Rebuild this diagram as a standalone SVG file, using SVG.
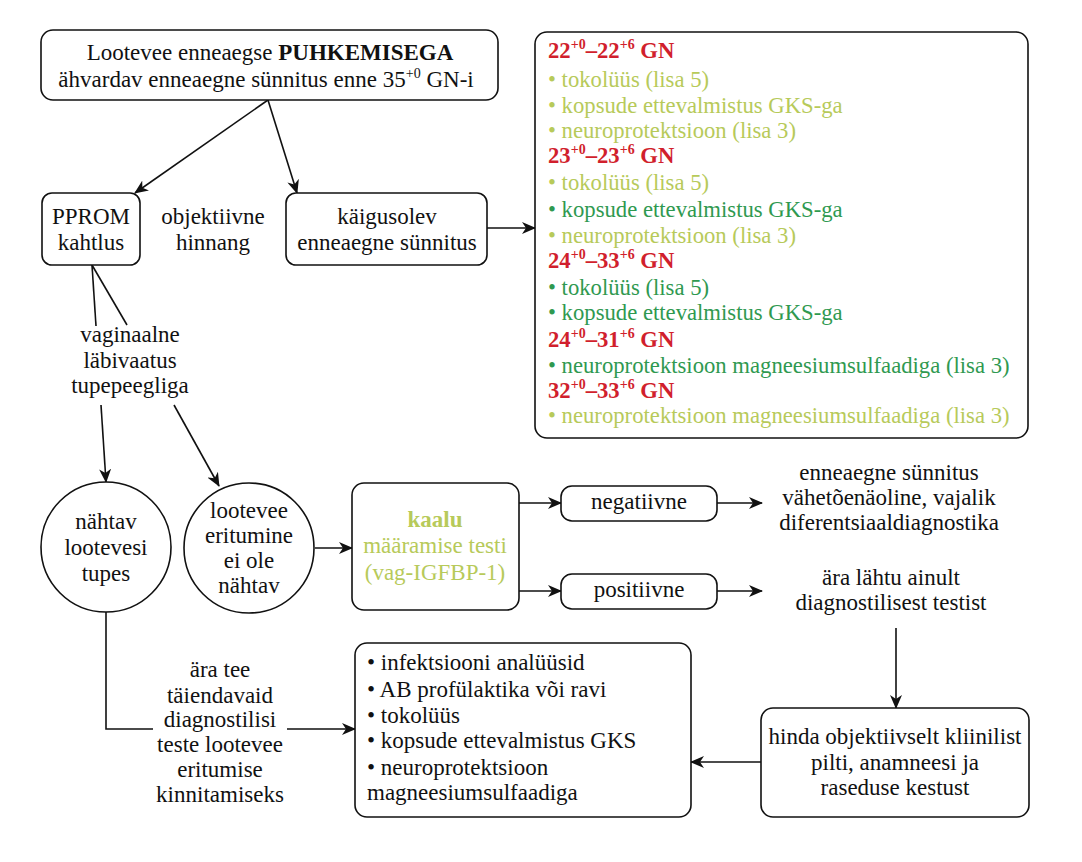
<svg xmlns="http://www.w3.org/2000/svg" width="1082" height="862" viewBox="0 0 1082 862" font-family="'Liberation Serif', 'Times New Roman', Times, serif" font-size="23">
<style>
text{font-family:'Liberation Serif','Times New Roman',Times,serif;font-size:23px;fill:#111;}
.c{text-anchor:middle;}
.box{fill:#fff;stroke:#111;stroke-width:1.6;}
.ln{fill:none;stroke:#111;stroke-width:1.6;}
.r text{font-size:22.7px;}
.red{fill:#d11f2d;font-weight:bold;}
.lg{fill:#b7ca5a;}
.dg{fill:#2f9950;}
.sup{font-size:14px;}
</style>
<defs>
<marker id="ah" markerUnits="userSpaceOnUse" markerWidth="14" markerHeight="12" refX="13" refY="6" orient="auto">
<path d="M0,0 L14,6 L0,12 L4,6 z" fill="#111"/>
</marker>
</defs>
<rect width="1082" height="862" fill="#fff"/>

<g id="connectors">
<line class="ln" x1="268" y1="100" x2="135" y2="193" marker-end="url(#ah)"/>
<line class="ln" x1="268" y1="100" x2="297" y2="193" marker-end="url(#ah)"/>
<line class="ln" x1="487" y1="228" x2="535" y2="228" marker-end="url(#ah)"/>
<line class="ln" x1="92" y1="265" x2="96" y2="326"/>
<line class="ln" x1="92" y1="265" x2="127" y2="325"/>
<line class="ln" x1="101" y1="405" x2="106" y2="482" marker-end="url(#ah)"/>
<line class="ln" x1="174" y1="405" x2="219" y2="486" marker-end="url(#ah)"/>
<line class="ln" x1="315" y1="548" x2="352" y2="548" marker-end="url(#ah)"/>
<line class="ln" x1="519" y1="503" x2="561" y2="503" marker-end="url(#ah)"/>
<line class="ln" x1="519" y1="591" x2="561" y2="591" marker-end="url(#ah)"/>
<line class="ln" x1="717" y1="503" x2="762" y2="503" marker-end="url(#ah)"/>
<line class="ln" x1="717" y1="591" x2="762" y2="591" marker-end="url(#ah)"/>
<line class="ln" x1="896" y1="628" x2="896" y2="708" marker-end="url(#ah)"/>
<line class="ln" x1="762" y1="762" x2="691" y2="762" marker-end="url(#ah)"/>
<path class="ln" d="M106,612 L106,729 L355,729" marker-end="url(#ah)"/>
</g>

<g id="top">
<rect class="box" x="41" y="30" width="457" height="70" rx="12"/>
<text class="c" x="270" y="60">Lootevee enneaegse <tspan font-weight="bold">PUHKEMISEGA</tspan></text>
<text class="c" x="266" y="87">ähvardav enneaegne sünnitus enne 35<tspan class="sup" dy="-9">+0</tspan><tspan dy="9"> GN-i</tspan></text>
</g>

<g id="pprom">
<rect class="box" x="42" y="193" width="98" height="72" rx="10"/>
<text class="c" x="91" y="224">PPROM</text>
<text class="c" x="91" y="250">kahtlus</text>
</g>

<g id="objektiivne">
<text class="c" x="213" y="224">objektiivne</text>
<text class="c" x="213" y="250">hinnang</text>
</g>

<g id="kaigusolev">
<rect class="box" x="286" y="193" width="201" height="72" rx="10"/>
<text class="c" x="387" y="224">käigusolev</text>
<text class="c" x="387" y="250">enneaegne sünnitus</text>
</g>

<g id="ravi" class="r">
<rect class="box" x="535" y="32" width="493" height="406" rx="12"/>
<text class="red" x="548" y="58">22<tspan class="sup" dy="-9">+0</tspan><tspan dy="9">–22</tspan><tspan class="sup" dy="-9">+6</tspan><tspan dy="9"> GN</tspan></text>
<text class="lg" x="548" y="87">• tokolüüs (lisa 5)</text>
<text class="lg" x="548" y="113">• kopsude ettevalmistus GKS-ga</text>
<text class="lg" x="548" y="138">• neuroprotektsioon (lisa 3)</text>
<text class="red" x="548" y="163">23<tspan class="sup" dy="-9">+0</tspan><tspan dy="9">–23</tspan><tspan class="sup" dy="-9">+6</tspan><tspan dy="9"> GN</tspan></text>
<text class="lg" x="548" y="190">• tokolüüs (lisa 5)</text>
<text class="dg" x="548" y="217">• kopsude ettevalmistus GKS-ga</text>
<text class="lg" x="548" y="243">• neuroprotektsioon (lisa 3)</text>
<text class="red" x="548" y="268">24<tspan class="sup" dy="-9">+0</tspan><tspan dy="9">–33</tspan><tspan class="sup" dy="-9">+6</tspan><tspan dy="9"> GN</tspan></text>
<text class="dg" x="548" y="295">• tokolüüs (lisa 5)</text>
<text class="dg" x="548" y="320">• kopsude ettevalmistus GKS-ga</text>
<text class="red" x="548" y="347">24<tspan class="sup" dy="-9">+0</tspan><tspan dy="9">–31</tspan><tspan class="sup" dy="-9">+6</tspan><tspan dy="9"> GN</tspan></text>
<text class="dg" x="548" y="373">• neuroprotektsioon magneesiumsulfaadiga (lisa 3)</text>
<text class="red" x="548" y="398">32<tspan class="sup" dy="-9">+0</tspan><tspan dy="9">–33</tspan><tspan class="sup" dy="-9">+6</tspan><tspan dy="9"> GN</tspan></text>
<text class="lg" x="548" y="423">• neuroprotektsioon magneesiumsulfaadiga (lisa 3)</text>
</g>

<g id="vaginaalne">
<text class="c" x="130" y="342">vaginaalne</text>
<text class="c" x="130" y="368">läbivaatus</text>
<text class="c" x="130" y="393">tupepeegliga</text>
</g>

<g id="nahtav">
<circle class="box" cx="106" cy="547" r="65"/>
<text class="c" x="106" y="529">nähtav</text>
<text class="c" x="106" y="555">lootevesi</text>
<text class="c" x="106" y="581">tupes</text>
</g>

<g id="eritumine">
<circle class="box" cx="249" cy="548" r="65"/>
<text class="c" x="249" y="518">lootevee</text>
<text class="c" x="249" y="543">eritumine</text>
<text class="c" x="249" y="568">ei ole</text>
<text class="c" x="249" y="593">nähtav</text>
</g>

<g id="kaalu">
<rect class="box" x="352" y="483" width="167" height="127" rx="12"/>
<text class="c lg" x="435" y="527" font-weight="bold">kaalu</text>
<text class="c lg" x="435" y="553">määramise testi</text>
<text class="c lg" x="435" y="580">(vag-IGFBP-1)</text>
</g>

<g id="negatiivne">
<rect class="box" x="561" y="486" width="156" height="35" rx="11"/>
<text class="c" x="639" y="509">negatiivne</text>
</g>

<g id="positiivne">
<rect class="box" x="561" y="574" width="156" height="35" rx="11"/>
<text class="c" x="639" y="597">positiivne</text>
</g>

<g id="vahetoenaoline">
<text class="c" x="889" y="480">enneaegne sünnitus</text>
<text class="c" x="889" y="505">vähetõenäoline, vajalik</text>
<text class="c" x="889" y="530">diferentsiaaldiagnostika</text>
</g>

<g id="aralahtu">
<text class="c" x="891" y="585">ära lähtu ainult</text>
<text class="c" x="891" y="610">diagnostilisest testist</text>
</g>

<g id="hinda">
<rect class="box" x="761" y="708" width="268" height="109" rx="12"/>
<text class="c" x="895" y="744">hinda objektiivselt kliinilist</text>
<text class="c" x="895" y="770">pilti, anamneesi ja</text>
<text class="c" x="895" y="795">raseduse kestust</text>
</g>

<g id="tegevused">
<rect class="box" x="355" y="643" width="336" height="174" rx="12"/>
<text x="367" y="670">• infektsiooni analüüsid</text>
<text x="367" y="697">• AB profülaktika või ravi</text>
<text x="367" y="723">• tokolüüs</text>
<text x="367" y="748">• kopsude ettevalmistus GKS</text>
<text x="367" y="775">• neuroprotektsioon</text>
<text x="367" y="800">magneesiumsulfaadiga</text>
</g>

<g id="aratee">
<rect x="153" y="712" width="134" height="22" fill="#fff"/>
<text class="c" x="220" y="677">ära tee</text>
<text class="c" x="220" y="703">täiendavaid</text>
<text class="c" x="220" y="727">diagnostilisi</text>
<text class="c" x="220" y="752">teste lootevee</text>
<text class="c" x="220" y="777">eritumise</text>
<text class="c" x="220" y="802">kinnitamiseks</text>
</g>
</svg>
